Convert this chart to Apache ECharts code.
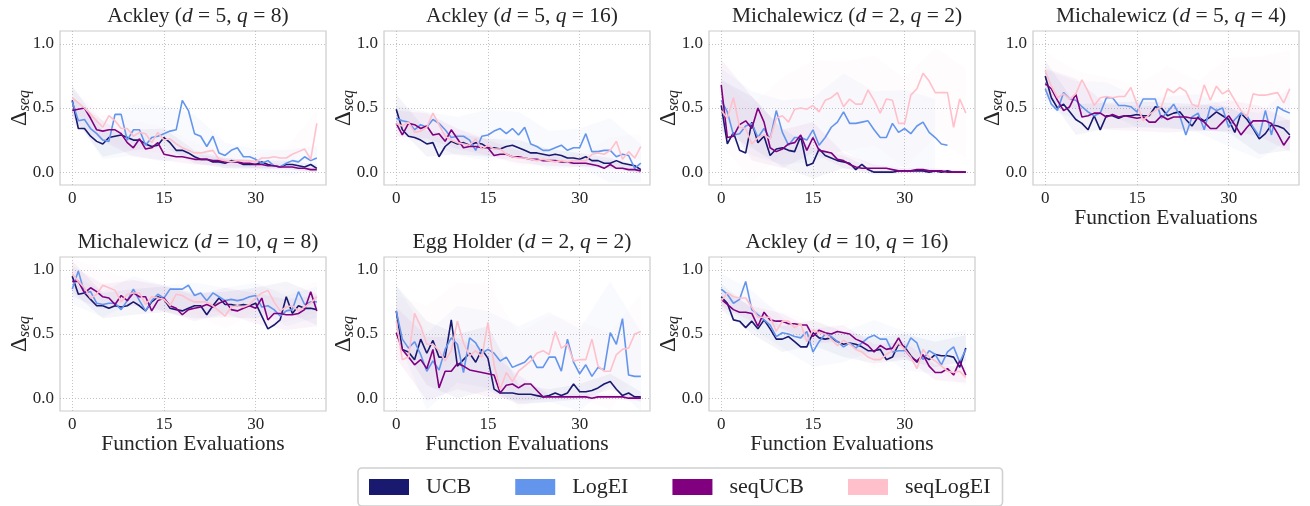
<!DOCTYPE html>
<html><head><meta charset="utf-8">
<script src="https://cdn.jsdelivr.net/npm/echarts@6/dist/echarts.min.js"></script>
<style>html,body{margin:0;padding:0;background:#fff}#c{width:1310px;height:506px}</style>
</head><body><div id="c"></div>
<script>
// ---------- data ----------
const methods = ['UCB', 'LogEI', 'seqUCB', 'seqLogEI'];
const xTicks = [0, 15, 30];
const yTicks = [0, 0.5, 1.0];
const bandX = [0, 5, 10, 15, 20, 25, 30, 35, 40];

// Ackley (d=5, q=8)
const ack5q8_UCB = [0.56,0.34,0.34,0.28,0.24,0.22,0.27,0.28,0.29,0.27,0.25,0.25,0.22,0.20,0.21,0.27,0.23,0.17,0.17,0.15,0.12,0.10,0.10,0.08,0.08,0.07,0.09,0.08,0.06,0.06,0.06,0.08,0.06,0.05,0.04,0.06,0.06,0.05,0.04,0.06,0.03];
const ack5q8_LogEI = [0.55,0.40,0.41,0.34,0.30,0.25,0.24,0.45,0.45,0.25,0.33,0.33,0.21,0.27,0.28,0.30,0.32,0.33,0.56,0.48,0.30,0.28,0.20,0.28,0.15,0.13,0.17,0.19,0.12,0.12,0.10,0.07,0.09,0.05,0.04,0.07,0.09,0.08,0.12,0.09,0.11];
const ack5q8_seqUCB = [0.48,0.49,0.50,0.42,0.33,0.32,0.33,0.33,0.30,0.23,0.19,0.26,0.18,0.19,0.23,0.14,0.13,0.12,0.12,0.11,0.10,0.10,0.10,0.09,0.09,0.08,0.08,0.08,0.07,0.07,0.06,0.06,0.05,0.05,0.04,0.04,0.04,0.03,0.03,0.02,0.02];
const ack5q8_seqLogEI = [0.58,0.54,0.50,0.45,0.40,0.35,0.44,0.40,0.34,0.34,0.28,0.31,0.30,0.23,0.31,0.25,0.26,0.22,0.19,0.17,0.15,0.15,0.16,0.17,0.10,0.09,0.08,0.09,0.09,0.09,0.08,0.11,0.11,0.12,0.11,0.11,0.14,0.16,0.18,0.10,0.38];
const ack5q8_sd_UCB = [0.12,0.10,0.08,0.07,0.05,0.04,0.03,0.03,0.03];
const ack5q8_sd_LogEI = [0.10,0.15,0.20,0.22,0.15,0.10,0.08,0.10,0.10];
const ack5q8_sd_seqUCB = [0.10,0.08,0.07,0.05,0.04,0.03,0.03,0.02,0.02];
const ack5q8_sd_seqLogEI = [0.08,0.10,0.12,0.10,0.08,0.06,0.06,0.08,0.10];

// Ackley (d=5, q=16)
const ack5q16_UCB = [0.49,0.33,0.28,0.27,0.25,0.22,0.23,0.12,0.20,0.24,0.22,0.23,0.21,0.23,0.22,0.19,0.19,0.18,0.20,0.21,0.19,0.17,0.15,0.15,0.14,0.13,0.14,0.13,0.11,0.11,0.10,0.12,0.09,0.09,0.07,0.07,0.09,0.07,0.06,0.05,0.02];
const ack5q16_LogEI = [0.42,0.40,0.39,0.33,0.37,0.35,0.41,0.38,0.33,0.27,0.28,0.28,0.25,0.17,0.28,0.29,0.32,0.34,0.30,0.34,0.29,0.35,0.22,0.20,0.17,0.17,0.19,0.21,0.17,0.19,0.19,0.30,0.16,0.16,0.17,0.17,0.12,0.14,0.13,0.03,0.07];
const ack5q16_seqUCB = [0.38,0.29,0.38,0.37,0.34,0.36,0.29,0.30,0.24,0.33,0.26,0.19,0.20,0.20,0.19,0.19,0.13,0.14,0.14,0.12,0.12,0.11,0.10,0.10,0.09,0.09,0.09,0.08,0.08,0.07,0.07,0.07,0.06,0.05,0.03,0.06,0.03,0.03,0.02,0.02,0.01];
const ack5q16_seqLogEI = [0.38,0.36,0.39,0.31,0.32,0.35,0.46,0.37,0.28,0.25,0.23,0.22,0.21,0.26,0.18,0.21,0.18,0.18,0.14,0.12,0.11,0.11,0.10,0.09,0.10,0.09,0.08,0.09,0.08,0.09,0.09,0.09,0.14,0.15,0.14,0.17,0.24,0.10,0.16,0.11,0.20];
const ack5q16_sd_UCB = [0.12,0.10,0.08,0.07,0.06,0.05,0.05,0.04,0.03];
const ack5q16_sd_LogEI = [0.10,0.12,0.15,0.20,0.18,0.15,0.15,0.25,0.15];
const ack5q16_sd_seqUCB = [0.10,0.10,0.08,0.06,0.05,0.04,0.03,0.03,0.02];
const ack5q16_sd_seqLogEI = [0.12,0.12,0.10,0.08,0.06,0.05,0.05,0.10,0.10];

// Michalewicz (d=2, q=2)
const mic2q2_UCB = [0.52,0.22,0.31,0.17,0.15,0.39,0.23,0.28,0.13,0.18,0.19,0.17,0.16,0.28,0.05,0.07,0.18,0.13,0.11,0.09,0.08,0.07,0.02,0.06,0.02,0.00,0.00,0.00,0.00,0.01,0.01,0.01,0.01,0.01,0.00,0.01,0.00,0.01,0.00,0.00,0.00];
const mic2q2_LogEI = [0.56,0.47,0.29,0.30,0.36,0.38,0.27,0.34,0.26,0.48,0.31,0.21,0.27,0.27,0.25,0.33,0.21,0.27,0.35,0.39,0.47,0.38,0.38,0.39,0.40,0.33,0.27,0.27,0.38,0.31,0.34,0.30,0.36,0.39,0.31,0.27,0.22,0.21,null,null,null];
const mic2q2_seqUCB = [0.68,0.27,0.28,0.37,0.40,0.34,0.50,0.39,0.19,0.16,0.18,0.22,0.23,0.29,0.17,0.27,0.17,0.16,0.15,0.10,0.09,0.06,0.04,0.03,0.03,0.03,0.03,0.03,0.02,0.01,0.01,0.01,0.02,0.02,0.01,0.01,0.01,0.00,0.00,0.00,0.00];
const mic2q2_seqLogEI = [0.48,0.42,0.58,0.35,0.34,0.22,0.27,0.29,0.26,0.42,0.44,0.39,0.49,0.50,0.49,0.52,0.47,0.56,0.58,0.62,0.51,0.57,0.53,0.53,0.64,0.56,0.46,0.57,0.56,0.38,0.38,0.60,0.65,0.77,0.71,0.62,0.62,0.62,0.35,0.57,0.46];
const mic2q2_sd_UCB = [0.20,0.20,0.15,0.12,0.05,0.02,0.02,0.01,0.01];
const mic2q2_sd_LogEI = [0.25,0.25,0.25,0.25,0.30,0.30,0.30,0.30,0.30];
const mic2q2_sd_seqUCB = [0.20,0.25,0.15,0.12,0.06,0.03,0.02,0.02,0.01];
const mic2q2_sd_seqLogEI = [0.25,0.30,0.30,0.35,0.35,0.35,0.35,0.35,0.35];

// Michalewicz (d=5, q=4)
const mic5q4_UCB = [0.75,0.58,0.50,0.53,0.47,0.41,0.38,0.33,0.44,0.33,0.44,0.44,0.42,0.44,0.44,0.45,0.44,0.44,0.51,0.50,0.44,0.46,0.47,0.41,0.36,0.43,0.40,0.43,0.47,0.44,0.41,0.31,0.46,0.41,0.34,0.26,0.30,0.37,0.36,0.34,0.29];
const mic5q4_LogEI = [0.65,0.53,0.48,0.62,0.57,0.56,0.51,0.47,0.44,0.46,0.58,0.58,0.52,0.52,0.51,0.47,0.57,0.57,0.57,0.42,0.47,0.53,0.44,0.29,0.43,0.46,0.33,0.51,0.48,0.50,0.35,0.41,0.46,0.44,0.35,0.28,0.48,0.29,0.51,0.48,0.46];
const mic5q4_seqUCB = [0.69,0.65,0.56,0.48,0.51,0.61,0.43,0.44,0.46,0.46,0.43,0.45,0.43,0.44,0.43,0.42,0.43,0.39,0.39,0.44,0.41,0.43,0.43,0.43,0.42,0.42,0.39,0.34,0.34,0.39,0.44,0.37,0.29,0.35,0.40,0.40,0.40,0.38,0.30,0.21,0.28];
const mic5q4_seqLogEI = [0.79,0.67,0.58,0.61,0.57,0.61,0.72,0.63,0.52,0.58,0.59,0.58,0.59,0.59,0.66,0.53,0.40,0.45,0.48,0.51,0.65,0.62,0.66,0.63,0.53,0.51,0.68,0.56,0.67,0.61,0.64,0.56,0.48,0.43,0.61,0.60,0.60,0.61,0.62,0.54,0.65];
const mic5q4_sd_UCB = [0.12,0.12,0.10,0.10,0.10,0.10,0.10,0.12,0.12];
const mic5q4_sd_LogEI = [0.15,0.15,0.12,0.12,0.12,0.15,0.15,0.18,0.20];
const mic5q4_sd_seqUCB = [0.12,0.12,0.10,0.10,0.10,0.10,0.12,0.12,0.12];
const mic5q4_sd_seqLogEI = [0.15,0.18,0.15,0.15,0.18,0.20,0.25,0.30,0.30];

// Michalewicz (d=10, q=8)
const mic10q8_UCB = [0.95,0.81,0.82,0.77,0.72,0.72,0.70,0.72,0.71,0.72,0.75,0.72,0.68,0.75,0.79,0.77,0.70,0.69,0.68,0.70,0.72,0.72,0.65,0.72,0.78,0.73,0.73,0.72,0.73,0.72,0.74,0.64,0.54,0.57,0.61,0.79,0.66,0.72,0.70,0.70,0.69];
const mic10q8_LogEI = [0.85,0.99,0.82,0.83,0.74,0.73,0.74,0.74,0.69,0.76,0.85,0.76,0.68,0.76,0.81,0.78,0.85,0.85,0.85,0.88,0.80,0.82,0.76,0.82,0.79,0.76,0.77,0.76,0.77,0.79,0.80,0.71,0.72,0.69,0.64,0.68,0.69,0.83,0.73,0.75,0.75];
const mic10q8_seqUCB = [0.91,0.91,0.82,0.86,0.83,0.79,0.78,0.73,0.80,0.76,0.82,0.79,0.79,0.68,0.76,0.78,0.72,0.70,0.65,0.69,0.70,0.71,0.73,0.71,0.74,0.76,0.69,0.68,0.70,0.72,0.70,0.78,0.61,0.66,0.66,0.65,0.65,0.66,0.69,0.83,0.68];
const mic10q8_seqLogEI = [0.97,0.91,0.86,0.78,0.81,0.88,0.86,0.84,0.75,0.81,0.82,0.82,0.73,0.79,0.78,0.77,0.72,0.81,0.80,0.77,0.75,0.75,0.75,0.72,0.68,0.64,0.71,0.72,0.71,0.73,0.78,0.82,0.84,0.75,0.68,0.71,0.72,0.68,0.71,0.74,0.79];
const mic10q8_sd_UCB = [0.12,0.10,0.10,0.10,0.10,0.10,0.12,0.12,0.12];
const mic10q8_sd_LogEI = [0.12,0.10,0.10,0.10,0.10,0.10,0.10,0.12,0.12];
const mic10q8_sd_seqUCB = [0.12,0.10,0.10,0.10,0.10,0.10,0.12,0.12,0.12];
const mic10q8_sd_seqLogEI = [0.12,0.12,0.10,0.10,0.10,0.10,0.10,0.12,0.12];

// Egg Holder (d=2, q=2)
const egg2q2_UCB = [0.68,0.38,0.36,0.30,0.46,0.35,0.45,0.32,0.32,0.61,0.25,0.30,0.35,0.28,0.38,0.31,0.07,0.04,0.04,0.04,0.03,0.03,0.03,0.02,0.01,0.02,0.04,0.02,0.04,0.11,0.05,0.05,0.06,0.08,0.11,0.13,0.07,0.02,0.04,0.01,0.01];
const egg2q2_LogEI = [0.68,0.46,0.39,0.44,0.34,0.21,0.29,0.22,0.38,0.47,0.42,0.20,0.47,0.43,0.35,0.38,0.35,0.29,0.32,0.24,0.26,0.28,0.33,0.24,0.24,0.32,0.32,0.21,0.46,0.28,0.19,0.26,0.17,0.24,0.22,0.51,0.42,0.62,0.18,0.17,0.17];
const egg2q2_seqUCB = [0.51,0.38,0.32,0.26,0.30,0.23,0.38,0.08,0.21,0.21,0.27,0.25,0.22,0.21,0.20,0.19,0.18,0.04,0.10,0.11,0.08,0.11,0.11,0.06,0.01,0.01,0.01,0.01,0.01,0.01,0.01,0.01,0.00,0.01,0.01,0.01,0.01,0.01,0.00,0.00,0.00];
const egg2q2_seqLogEI = [0.60,0.30,0.32,0.66,0.56,0.42,0.42,0.37,0.29,0.37,0.60,0.43,0.33,0.37,0.32,0.59,0.26,0.07,0.20,0.13,0.21,0.25,0.29,0.35,0.37,0.34,0.52,0.39,0.42,0.29,0.30,0.30,0.46,0.25,0.21,0.21,0.34,0.38,0.39,0.50,0.52];
const egg2q2_sd_UCB = [0.20,0.25,0.25,0.25,0.08,0.05,0.06,0.06,0.04];
const egg2q2_sd_LogEI = [0.20,0.30,0.30,0.30,0.30,0.35,0.35,0.40,0.35];
const egg2q2_sd_seqUCB = [0.20,0.25,0.20,0.18,0.10,0.02,0.02,0.02,0.02];
const egg2q2_sd_seqLogEI = [0.20,0.30,0.30,0.30,0.30,0.30,0.30,0.30,0.30];

// Ackley (d=10, q=16)
const ack10q16_UCB = [0.79,0.74,0.61,0.60,0.55,0.60,0.54,0.61,0.54,0.46,0.46,0.48,0.44,0.40,0.40,0.51,0.47,0.46,0.47,0.44,0.42,0.43,0.42,0.40,0.37,0.37,0.38,0.30,0.32,0.42,0.40,0.33,0.28,0.33,0.30,0.34,0.33,0.33,0.32,0.24,0.39];
const ack10q16_LogEI = [0.85,0.81,0.74,0.77,0.91,0.69,0.65,0.61,0.57,0.48,0.51,0.50,0.48,0.47,0.52,0.36,0.44,0.50,0.48,0.44,0.40,0.43,0.39,0.43,0.47,0.49,0.46,0.46,0.36,0.37,0.37,0.47,0.43,0.30,0.37,0.34,0.26,0.36,0.40,0.28,0.38];
const ack10q16_seqUCB = [0.77,0.73,0.69,0.67,0.67,0.66,0.56,0.67,0.61,0.60,0.60,0.58,0.58,0.57,0.57,0.48,0.53,0.51,0.50,0.52,0.51,0.50,0.46,0.44,0.41,0.36,0.41,0.38,0.39,0.47,0.38,0.32,0.29,0.34,0.25,0.20,0.20,0.23,0.18,0.29,0.18];
const ack10q16_seqLogEI = [0.76,0.82,0.79,0.78,0.78,0.71,0.63,0.63,0.63,0.52,0.60,0.60,0.55,0.58,0.44,0.53,0.51,0.50,0.46,0.41,0.45,0.42,0.38,0.36,0.32,0.30,0.30,0.34,0.37,0.43,0.38,0.32,0.23,0.38,0.32,0.29,0.25,0.21,0.20,0.21,0.16];
const ack10q16_sd_UCB = [0.10,0.10,0.10,0.10,0.10,0.10,0.10,0.10,0.10];
const ack10q16_sd_LogEI = [0.12,0.15,0.12,0.12,0.12,0.12,0.15,0.15,0.15];
const ack10q16_sd_seqUCB = [0.06,0.06,0.06,0.06,0.06,0.06,0.06,0.06,0.06];
const ack10q16_sd_seqLogEI = [0.08,0.07,0.07,0.07,0.07,0.07,0.07,0.07,0.07];

const panels = [
  {fn: 'Ackley', d: 5, q: 8, mean: [ack5q8_UCB, ack5q8_LogEI, ack5q8_seqUCB, ack5q8_seqLogEI], sd: [ack5q8_sd_UCB, ack5q8_sd_LogEI, ack5q8_sd_seqUCB, ack5q8_sd_seqLogEI]},
  {fn: 'Ackley', d: 5, q: 16, mean: [ack5q16_UCB, ack5q16_LogEI, ack5q16_seqUCB, ack5q16_seqLogEI], sd: [ack5q16_sd_UCB, ack5q16_sd_LogEI, ack5q16_sd_seqUCB, ack5q16_sd_seqLogEI]},
  {fn: 'Michalewicz', d: 2, q: 2, mean: [mic2q2_UCB, mic2q2_LogEI, mic2q2_seqUCB, mic2q2_seqLogEI], sd: [mic2q2_sd_UCB, mic2q2_sd_LogEI, mic2q2_sd_seqUCB, mic2q2_sd_seqLogEI]},
  {fn: 'Michalewicz', d: 5, q: 4, mean: [mic5q4_UCB, mic5q4_LogEI, mic5q4_seqUCB, mic5q4_seqLogEI], sd: [mic5q4_sd_UCB, mic5q4_sd_LogEI, mic5q4_sd_seqUCB, mic5q4_sd_seqLogEI]},
  {fn: 'Michalewicz', d: 10, q: 8, mean: [mic10q8_UCB, mic10q8_LogEI, mic10q8_seqUCB, mic10q8_seqLogEI], sd: [mic10q8_sd_UCB, mic10q8_sd_LogEI, mic10q8_sd_seqUCB, mic10q8_sd_seqLogEI]},
  {fn: 'Egg Holder', d: 2, q: 2, mean: [egg2q2_UCB, egg2q2_LogEI, egg2q2_seqUCB, egg2q2_seqLogEI], sd: [egg2q2_sd_UCB, egg2q2_sd_LogEI, egg2q2_sd_seqUCB, egg2q2_sd_seqLogEI]},
  {fn: 'Ackley', d: 10, q: 16, mean: [ack10q16_UCB, ack10q16_LogEI, ack10q16_seqUCB, ack10q16_seqLogEI], sd: [ack10q16_sd_UCB, ack10q16_sd_LogEI, ack10q16_sd_seqUCB, ack10q16_sd_seqLogEI]}
];
const xLabelPanels = [3, 4, 5, 6];

// ---------- style / layout ----------
const colors = ['#191970', '#6495ED', '#800080', '#FFC0CB'];
const FONT = 'Liberation Serif';
const TXT = '#262626';
const lefts = [60, 384, 709, 1033];
const tops = [31, 257];
const W = 266, H = 154;
const XMIN = -2, XMAX = 41.5, YMIN = -0.1, YMAX = 1.1;

const grids = [], xAxes = [], yAxes = [], titles = [], series = [];
panels.forEach((p, i) => {
  const row = i < 4 ? 0 : 1, col = i < 4 ? i : i - 4;
  const L = lefts[col], T = tops[row];
  grids.push({left: L, top: T, width: W, height: H, show: true, borderColor: '#cccccc', borderWidth: 1.2, backgroundColor: '#fff'});
  titles.push({
    text: '{n|' + p.fn + ' (}{i|d}{n| = ' + p.d + ', }{i|q}{n| = ' + p.q + ')}',
    left: L + W / 2, top: T - 31, textAlign: 'center',
    textStyle: {fontWeight: 'normal', rich: {
      n: {fontFamily: FONT, fontSize: 21.5, fontWeight: 'normal', color: TXT},
      i: {fontFamily: FONT, fontSize: 21.5, fontWeight: 'normal', fontStyle: 'italic', color: TXT}
    }}
  });
  const hasX = xLabelPanels.indexOf(i) >= 0;
  xAxes.push({
    type: 'value', gridIndex: i, min: XMIN, max: XMAX,
    axisLine: {show: false}, axisTick: {show: false, customValues: xTicks},
    axisLabel: {customValues: xTicks, fontFamily: FONT, fontSize: 17, color: TXT, margin: 5},
    splitLine: {show: true, lineStyle: {color: '#b4b4b4', width: 0.8, type: [1, 2]}},
    name: hasX ? 'Function Evaluations' : '', nameLocation: 'middle', nameGap: 22, nameMoveOverlap: false,
    nameTextStyle: {fontFamily: FONT, fontSize: 21.5, color: TXT}
  });
  yAxes.push({
    type: 'value', gridIndex: i, min: YMIN, max: YMAX,
    axisLine: {show: false}, axisTick: {show: false, customValues: yTicks},
    axisLabel: {customValues: yTicks, fontFamily: FONT, fontSize: 17, color: TXT, margin: 6,
      formatter: v => v.toFixed(1)},
    splitLine: {show: true, lineStyle: {color: '#b4b4b4', width: 0.8, type: [1, 2]}},
    name: '{d|Δ}{s|seq}', nameLocation: 'middle', nameRotate: 90, nameGap: 27, nameMoveOverlap: false,
    nameTextStyle: {rich: {
      d: {fontFamily: FONT, fontSize: 23, color: TXT},
      s: {fontFamily: FONT, fontSize: 16, fontStyle: 'italic', color: TXT, verticalAlign: 'bottom', padding: [10, 0, 0, 0]}
    }}
  });
  methods.forEach((m, k) => {
    const mean = p.mean[k], sd = p.sd[k];
    series.push({
      type: 'custom', xAxisIndex: i, yAxisIndex: i, silent: true, clip: true, z: 1,
      data: [[0, 0]],
      renderItem: (params, api) => {
        const up = [], lo = [];
        bandX.forEach((x, b) => {
          const mu = mean[x];
          if (mu == null) return;
          up.push(api.coord([x, Math.min(mu + sd[b], YMAX)]));
          lo.push(api.coord([x, Math.max(mu - sd[b], YMIN)]));
        });
        return {type: 'polygon', shape: {points: up.concat(lo.reverse())},
          style: {fill: colors[k], opacity: 0.045}};
      }
    });
  });
  methods.forEach((m, k) => {
    series.push({
      type: 'line', name: m, xAxisIndex: i, yAxisIndex: i, z: 2 + k,
      data: p.mean[k].map((v, j) => [j, v]),
      showSymbol: false, symbol: 'none', silent: true,
      lineStyle: {color: colors[k], width: 1.6}, itemStyle: {color: colors[k]}
    });
  });
});

const chart = echarts.init(document.getElementById('c'), null, {renderer: 'canvas'});
chart.setOption({
  animation: false,
  backgroundColor: '#fff',
  title: titles,
  grid: grids, xAxis: xAxes, yAxis: yAxes, series: series,
  legend: {
    data: methods, left: 358, top: 468, orient: 'horizontal',
    icon: 'rect', itemWidth: 40, itemHeight: 16, itemGap: 44,
    padding: [8, 12, 8, 11],
    borderColor: '#d0d0d0', borderWidth: 1.6, borderRadius: 4,
    textStyle: {fontFamily: FONT, fontSize: 22, color: TXT, padding: [0, 0, 0, 12]},
    selectedMode: false
  }
});
</script></body></html>
